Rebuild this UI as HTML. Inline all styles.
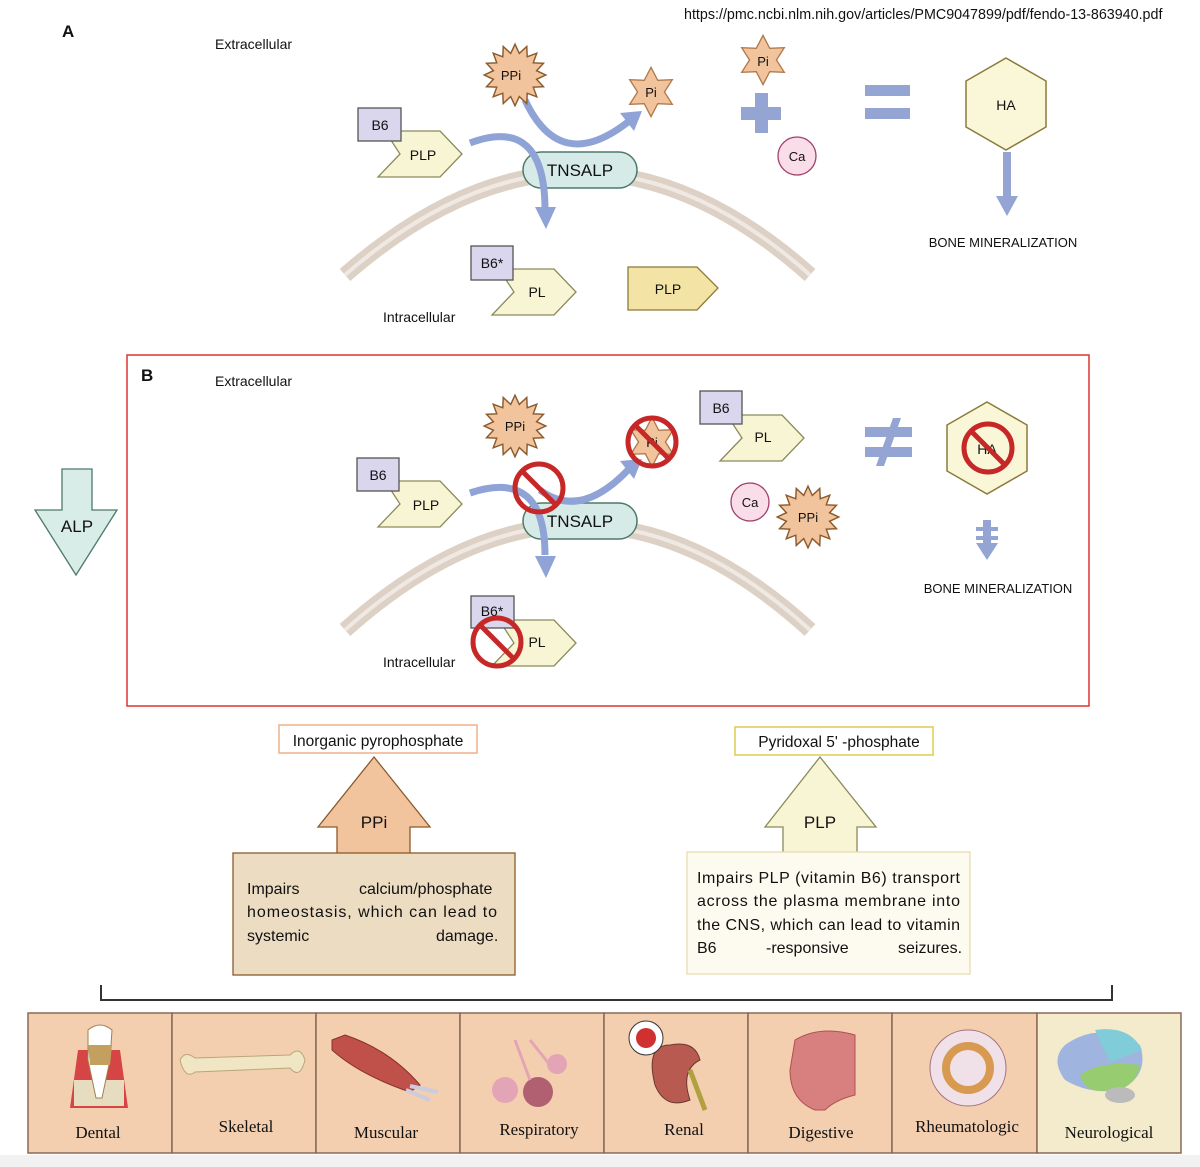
<!DOCTYPE html>
<html><head><meta charset="utf-8"><style>
body{margin:0;background:#fff}
svg{display:block}
text{font-family:"Liberation Sans",sans-serif;fill:#111}
.s{font-family:"Liberation Serif",serif;font-size:17px}
</style></head><body>
<svg width="1200" height="1167" viewBox="0 0 1200 1167" xmlns="http://www.w3.org/2000/svg">
<defs>
<polygon id="burst" transform="scale(1.1)" points="28,0 19.6,3.9 25.9,10.7 16.6,11.1 19.8,19.8 11.1,16.6 10.7,25.9 3.9,19.6 0,28 -3.9,19.6 -10.7,25.9 -11.1,16.6 -19.8,19.8 -16.6,11.1 -25.9,10.7 -19.6,3.9 -28,0 -19.6,-3.9 -25.9,-10.7 -16.6,-11.1 -19.8,-19.8 -11.1,-16.6 -10.7,-25.9 -3.9,-19.6 0,-28 3.9,-19.6 10.7,-25.9 11.1,-16.6 19.8,-19.8 16.6,-11.1 25.9,-10.7 19.6,-3.9" fill="#f2c49d" stroke="#8b5a2b" stroke-width="1.3"/>
<polygon id="star" transform="scale(1.12)" points="0,-22 6,-10.4 19,-11 12,0 19,11 6,10.4 0,22 -6,10.4 -19,11 -12,0 -19,-11 -6,-10.4" fill="#f2c49d" stroke="#b07a4a" stroke-width="1.2"/>
<polygon id="hex" points="0,-46 40,-23 40,23 0,46 -40,23 -40,-23" fill="#faf6d8" stroke="#8a7a3a" stroke-width="1.5"/>
<polygon id="chev" points="7,0 62,0 84,23 62,46 0,46 22,23" fill="#f8f5d5" stroke="#8a8a5a" stroke-width="1.3"/>
<g id="no"><circle r="24" fill="none" stroke="#c62828" stroke-width="5"/><line x1="-17" y1="-17" x2="17" y2="17" stroke="#c62828" stroke-width="5"/></g>
</defs>

<text x="684" y="19" font-size="14.3">https://pmc.ncbi.nlm.nih.gov/articles/PMC9047899/pdf/fendo-13-863940.pdf</text>
<text x="62" y="37" font-size="17" font-weight="bold">A</text>
<text x="215" y="49" font-size="14">Extracellular</text>
<text x="383" y="322" font-size="14">Intracellular</text>

<path d="M345,275 Q580,70 810,275" fill="none" stroke="#ddd0c5" stroke-width="16"/>
<path d="M345,275 Q580,70 810,275" fill="none" stroke="#f0e8e2" stroke-width="4"/>
<rect x="523" y="152" width="114" height="36" rx="18" fill="#d6ebe8" stroke="#4d7a6a" stroke-width="1.5"/>
<text x="580" y="176" font-size="17" text-anchor="middle">TNSALP</text>
<path d="M470,143 Q545,115 545,210" fill="none" stroke="#8fa3d6" stroke-width="7"/>
<polygon points="535,207 556,207 546,229" fill="#8fa3d6"/>
<path d="M525,100 Q560,175 628,122" fill="none" stroke="#8fa3d6" stroke-width="7"/>
<polygon points="620,113 642,111 634,131" fill="#8fa3d6"/>
<use href="#chev" x="378" y="131"/>
<rect x="358" y="108" width="43" height="33" fill="#d9d6ee" stroke="#555" stroke-width="1.3"/>
<text x="380" y="130" font-size="14" text-anchor="middle">B6</text>
<text x="423" y="160" font-size="14" text-anchor="middle">PLP</text>
<use href="#burst" x="515" y="75"/>
<text x="511" y="80" font-size="13" text-anchor="middle">PPi</text>
<use href="#star" x="651" y="92"/>
<text x="651" y="97" font-size="13" text-anchor="middle">Pi</text>
<use href="#star" x="763" y="60"/>
<text x="763" y="66" font-size="13" text-anchor="middle">Pi</text>
<rect x="755" y="93" width="13" height="40" fill="#94a5d3"/>
<rect x="741" y="107" width="40" height="13" fill="#94a5d3"/>
<circle cx="797" cy="156" r="19" fill="#f9dde9" stroke="#a0406a" stroke-width="1.3"/>
<text x="797" y="161" font-size="13" text-anchor="middle">Ca</text>
<rect x="865" y="85" width="45" height="11" fill="#94a5d3"/>
<rect x="865" y="108" width="45" height="11" fill="#94a5d3"/>
<use href="#hex" x="1006" y="104"/>
<text x="1006" y="110" font-size="14" text-anchor="middle">HA</text>
<rect x="1003" y="152" width="8" height="45" fill="#94a5d3"/>
<polygon points="996,196 1018,196 1007,216" fill="#94a5d3"/>
<text x="1003" y="247" font-size="13" text-anchor="middle">BONE MINERALIZATION</text>
<use href="#chev" x="492" y="269"/>
<rect x="471" y="246" width="42" height="34" fill="#d9d6ee" stroke="#555" stroke-width="1.3"/>
<text x="492" y="268" font-size="14" text-anchor="middle">B6*</text>
<text x="537" y="297" font-size="14" text-anchor="middle">PL</text>
<polygon points="628,267 697,267 718,288 697,310 628,310" fill="#f3e4a5" stroke="#8a7a3a" stroke-width="1.3"/>
<text x="668" y="294" font-size="14" text-anchor="middle">PLP</text>

<rect x="127" y="355" width="962" height="351" fill="none" stroke="#d33" stroke-width="1.5"/>
<text x="141" y="381" font-size="17" font-weight="bold">B</text>
<text x="215" y="386" font-size="14">Extracellular</text>
<text x="383" y="667" font-size="14">Intracellular</text>
<path d="M345,630 Q580,420 810,630" fill="none" stroke="#ddd0c5" stroke-width="16"/>
<path d="M345,630 Q580,420 810,630" fill="none" stroke="#f0e8e2" stroke-width="4"/>
<rect x="523" y="503" width="114" height="36" rx="18" fill="#d6ebe8" stroke="#4d7a6a" stroke-width="1.5"/>
<text x="580" y="527" font-size="17" text-anchor="middle">TNSALP</text>
<path d="M470,493 Q545,468 545,555" fill="none" stroke="#8fa3d6" stroke-width="7"/>
<polygon points="535,556 556,556 546,578" fill="#8fa3d6"/>
<path d="M540,490 Q580,520 628,470" fill="none" stroke="#8fa3d6" stroke-width="7"/>
<polygon points="620,461 642,459 634,479" fill="#8fa3d6"/>
<use href="#chev" x="378" y="481"/>
<rect x="357" y="458" width="42" height="33" fill="#d9d6ee" stroke="#555" stroke-width="1.3"/>
<text x="378" y="480" font-size="14" text-anchor="middle">B6</text>
<text x="426" y="510" font-size="14" text-anchor="middle">PLP</text>
<use href="#no" x="539" y="488"/>
<use href="#burst" x="515" y="426"/>
<text x="515" y="431" font-size="13" text-anchor="middle">PPi</text>
<use href="#star" x="652" y="442"/>
<text x="652" y="447" font-size="13" text-anchor="middle">Pi</text>
<use href="#no" x="652" y="442"/>
<use href="#chev" x="720" y="415"/>
<rect x="700" y="391" width="42" height="33" fill="#d9d6ee" stroke="#555" stroke-width="1.3"/>
<text x="721" y="413" font-size="14" text-anchor="middle">B6</text>
<text x="763" y="442" font-size="14" text-anchor="middle">PL</text>
<rect x="865" y="427" width="47" height="10" fill="#94a5d3"/>
<rect x="865" y="447" width="47" height="10" fill="#94a5d3"/>
<polygon points="893,418 901,418 884,466 876,466" fill="#94a5d3"/>
<circle cx="750" cy="502" r="19" fill="#f9dde9" stroke="#a0406a" stroke-width="1.3"/>
<text x="750" y="507" font-size="13" text-anchor="middle">Ca</text>
<use href="#burst" x="808" y="517"/>
<text x="808" y="522" font-size="13" text-anchor="middle">PPi</text>
<use href="#hex" x="987" y="448"/>
<text x="987" y="454" font-size="14" text-anchor="middle">HA</text>
<use href="#no" x="988" y="448"/>
<rect x="983" y="520" width="8" height="24" fill="#94a5d3"/>
<rect x="976" y="527" width="22" height="4" fill="#94a5d3"/>
<rect x="976" y="536" width="22" height="4" fill="#94a5d3"/>
<polygon points="976,543 998,543 987,560" fill="#94a5d3"/>
<text x="998" y="593" font-size="13" text-anchor="middle">BONE MINERALIZATION</text>
<use href="#chev" x="492" y="620"/>
<rect x="471" y="596" width="43" height="32" fill="#d9d6ee" stroke="#555" stroke-width="1.3"/>
<text x="492" y="616" font-size="14" text-anchor="middle">B6*</text>
<text x="537" y="647" font-size="14" text-anchor="middle">PL</text>
<use href="#no" x="497" y="642"/>

<polygon points="62,469 92,469 92,510 117,510 76,575 35,510 62,510" fill="#d8ece8" stroke="#4d7a6a" stroke-width="1.3"/>
<text x="77" y="532" font-size="17" text-anchor="middle">ALP</text>

<rect x="279" y="725" width="198" height="28" fill="#fff" stroke="#f0b08a" stroke-width="1.5"/>
<text x="378" y="746" font-size="15.5" text-anchor="middle">Inorganic pyrophosphate</text>
<polygon points="374,757 430,827 410,827 410,860 337,860 337,827 318,827" fill="#f2c49d" stroke="#8b5a2b" stroke-width="1.3"/>
<text x="374" y="828" font-size="17" text-anchor="middle">PPi</text>
<rect x="233" y="853" width="282" height="122" fill="#ecdcc2" stroke="#8b5a2b" stroke-width="1.3"/>
<text font-size="16"><tspan x="247" y="894">Impairs</tspan><tspan x="359" y="894">calcium/phosphate</tspan></text>
<text x="247" y="917" font-size="16" textLength="250" lengthAdjust="spacing">homeostasis, which can lead to</text>
<text font-size="16"><tspan x="247" y="941">systemic</tspan><tspan x="436" y="941">damage.</tspan></text>

<rect x="735" y="727" width="198" height="28" fill="#fff" stroke="#e0cc50" stroke-width="1.5"/>
<text x="839" y="747" font-size="15.5" text-anchor="middle">Pyridoxal 5' -phosphate</text>
<polygon points="820,757 876,827 857,827 857,860 783,860 783,827 765,827" fill="#f8f5d5" stroke="#8a8a5a" stroke-width="1.3"/>
<text x="820" y="828" font-size="17" text-anchor="middle">PLP</text>
<rect x="687" y="852" width="283" height="122" fill="#fdfbf0" stroke="#e8dcae" stroke-width="1.3"/>
<text x="697" y="883" font-size="16" textLength="263" lengthAdjust="spacing">Impairs PLP (vitamin B6) transport</text>
<text x="697" y="906" font-size="16" textLength="263" lengthAdjust="spacing">across the plasma membrane into</text>
<text x="697" y="930" font-size="16" textLength="263" lengthAdjust="spacing">the CNS, which can lead to vitamin</text>
<text font-size="16"><tspan x="697" y="953">B6</tspan><tspan x="766" y="953">-responsive</tspan><tspan x="898" y="953">seizures.</tspan></text>

<path d="M101,985 V1000 H1112 V985" fill="none" stroke="#333" stroke-width="2"/>

<rect x="0" y="1155" width="1200" height="12" fill="#f1f1f1"/>
<g stroke="#8a6a55" stroke-width="1.5">
<rect x="28" y="1013" width="144" height="140" fill="#f3cfb0"/>
<rect x="172" y="1013" width="144" height="140" fill="#f3cfb0"/>
<rect x="316" y="1013" width="144" height="140" fill="#f3cfb0"/>
<rect x="460" y="1013" width="144" height="140" fill="#f3cfb0"/>
<rect x="604" y="1013" width="144" height="140" fill="#f3cfb0"/>
<rect x="748" y="1013" width="144" height="140" fill="#f3cfb0"/>
<rect x="892" y="1013" width="145" height="140" fill="#f3cfb0"/>
<rect x="1037" y="1013" width="144" height="140" fill="#f3ebcb"/>
</g>
<path d="M70,1108 L78,1050 L120,1050 L128,1108 Z" fill="#d64545"/>
<rect x="74" y="1080" width="50" height="26" fill="#e6dcc0"/>
<path d="M88,1030 Q100,1020 112,1030 L110,1060 L102,1098 L96,1098 L88,1060 Z" fill="#fff" stroke="#a08050"/>
<path d="M88,1045 L112,1045 L110,1065 L90,1065 Z" fill="#c4a060"/>
<path d="M180,1060 Q185,1050 195,1058 L290,1055 Q300,1045 305,1060 Q300,1080 290,1068 L195,1072 Q185,1080 180,1060Z" fill="#f0e6c4" stroke="#b8a77a"/>
<path d="M332,1040 L345,1035 Q390,1050 420,1085 L410,1092 Q360,1075 332,1050Z" fill="#c0504a" stroke="#8a3030"/>
<path d="M410,1086 L438,1092 M406,1090 L430,1100" stroke="#ccd" stroke-width="4"/>
<circle cx="505" cy="1090" r="13" fill="#e3a5b5"/>
<circle cx="538" cy="1092" r="15" fill="#b06070"/>
<circle cx="557" cy="1064" r="10" fill="#e3a5b5"/>
<path d="M515,1040 L530,1080 M530,1040 L550,1065" stroke="#e3a5b5" stroke-width="3" fill="none"/>
<path d="M670,1045 Q645,1045 655,1085 Q665,1110 690,1100 Q680,1070 700,1060 Q695,1040 670,1045Z" fill="#b85a50" stroke="#6a3a30"/>
<path d="M690,1070 L705,1110" stroke="#b0a040" stroke-width="5"/>
<circle cx="646" cy="1038" r="17" fill="#fff" stroke="#333"/>
<circle cx="646" cy="1038" r="10" fill="#d03030"/>
<path d="M795,1040 Q820,1025 855,1035 L855,1095 Q835,1100 825,1110 L815,1110 Q790,1100 790,1070Z" fill="#d88080" stroke="#b05050"/>
<circle cx="968" cy="1068" r="38" fill="#f0e0e8" stroke="#a07080"/>
<circle cx="968" cy="1068" r="22" fill="none" stroke="#d89a50" stroke-width="8"/>
<path d="M1065,1045 Q1100,1020 1140,1045 Q1150,1075 1120,1090 Q1090,1095 1065,1080 Q1050,1060 1065,1045Z" fill="#a0b4e0"/>
<path d="M1095,1030 Q1130,1025 1142,1050 L1110,1062 Z" fill="#80ccd8"/>
<path d="M1080,1075 Q1100,1060 1140,1065 Q1135,1090 1110,1090 Q1085,1095 1080,1075Z" fill="#98cc70"/>
<ellipse cx="1120" cy="1095" rx="15" ry="8" fill="#bbb"/>
<text class="s" x="98" y="1138" text-anchor="middle">Dental</text>
<text class="s" x="246" y="1132" text-anchor="middle">Skeletal</text>
<text class="s" x="386" y="1138" text-anchor="middle">Muscular</text>
<text class="s" x="539" y="1135" text-anchor="middle">Respiratory</text>
<text class="s" x="684" y="1135" text-anchor="middle">Renal</text>
<text class="s" x="821" y="1138" text-anchor="middle">Digestive</text>
<text class="s" x="967" y="1132" text-anchor="middle">Rheumatologic</text>
<text class="s" x="1109" y="1138" text-anchor="middle">Neurological</text>
</svg>
</body></html>
